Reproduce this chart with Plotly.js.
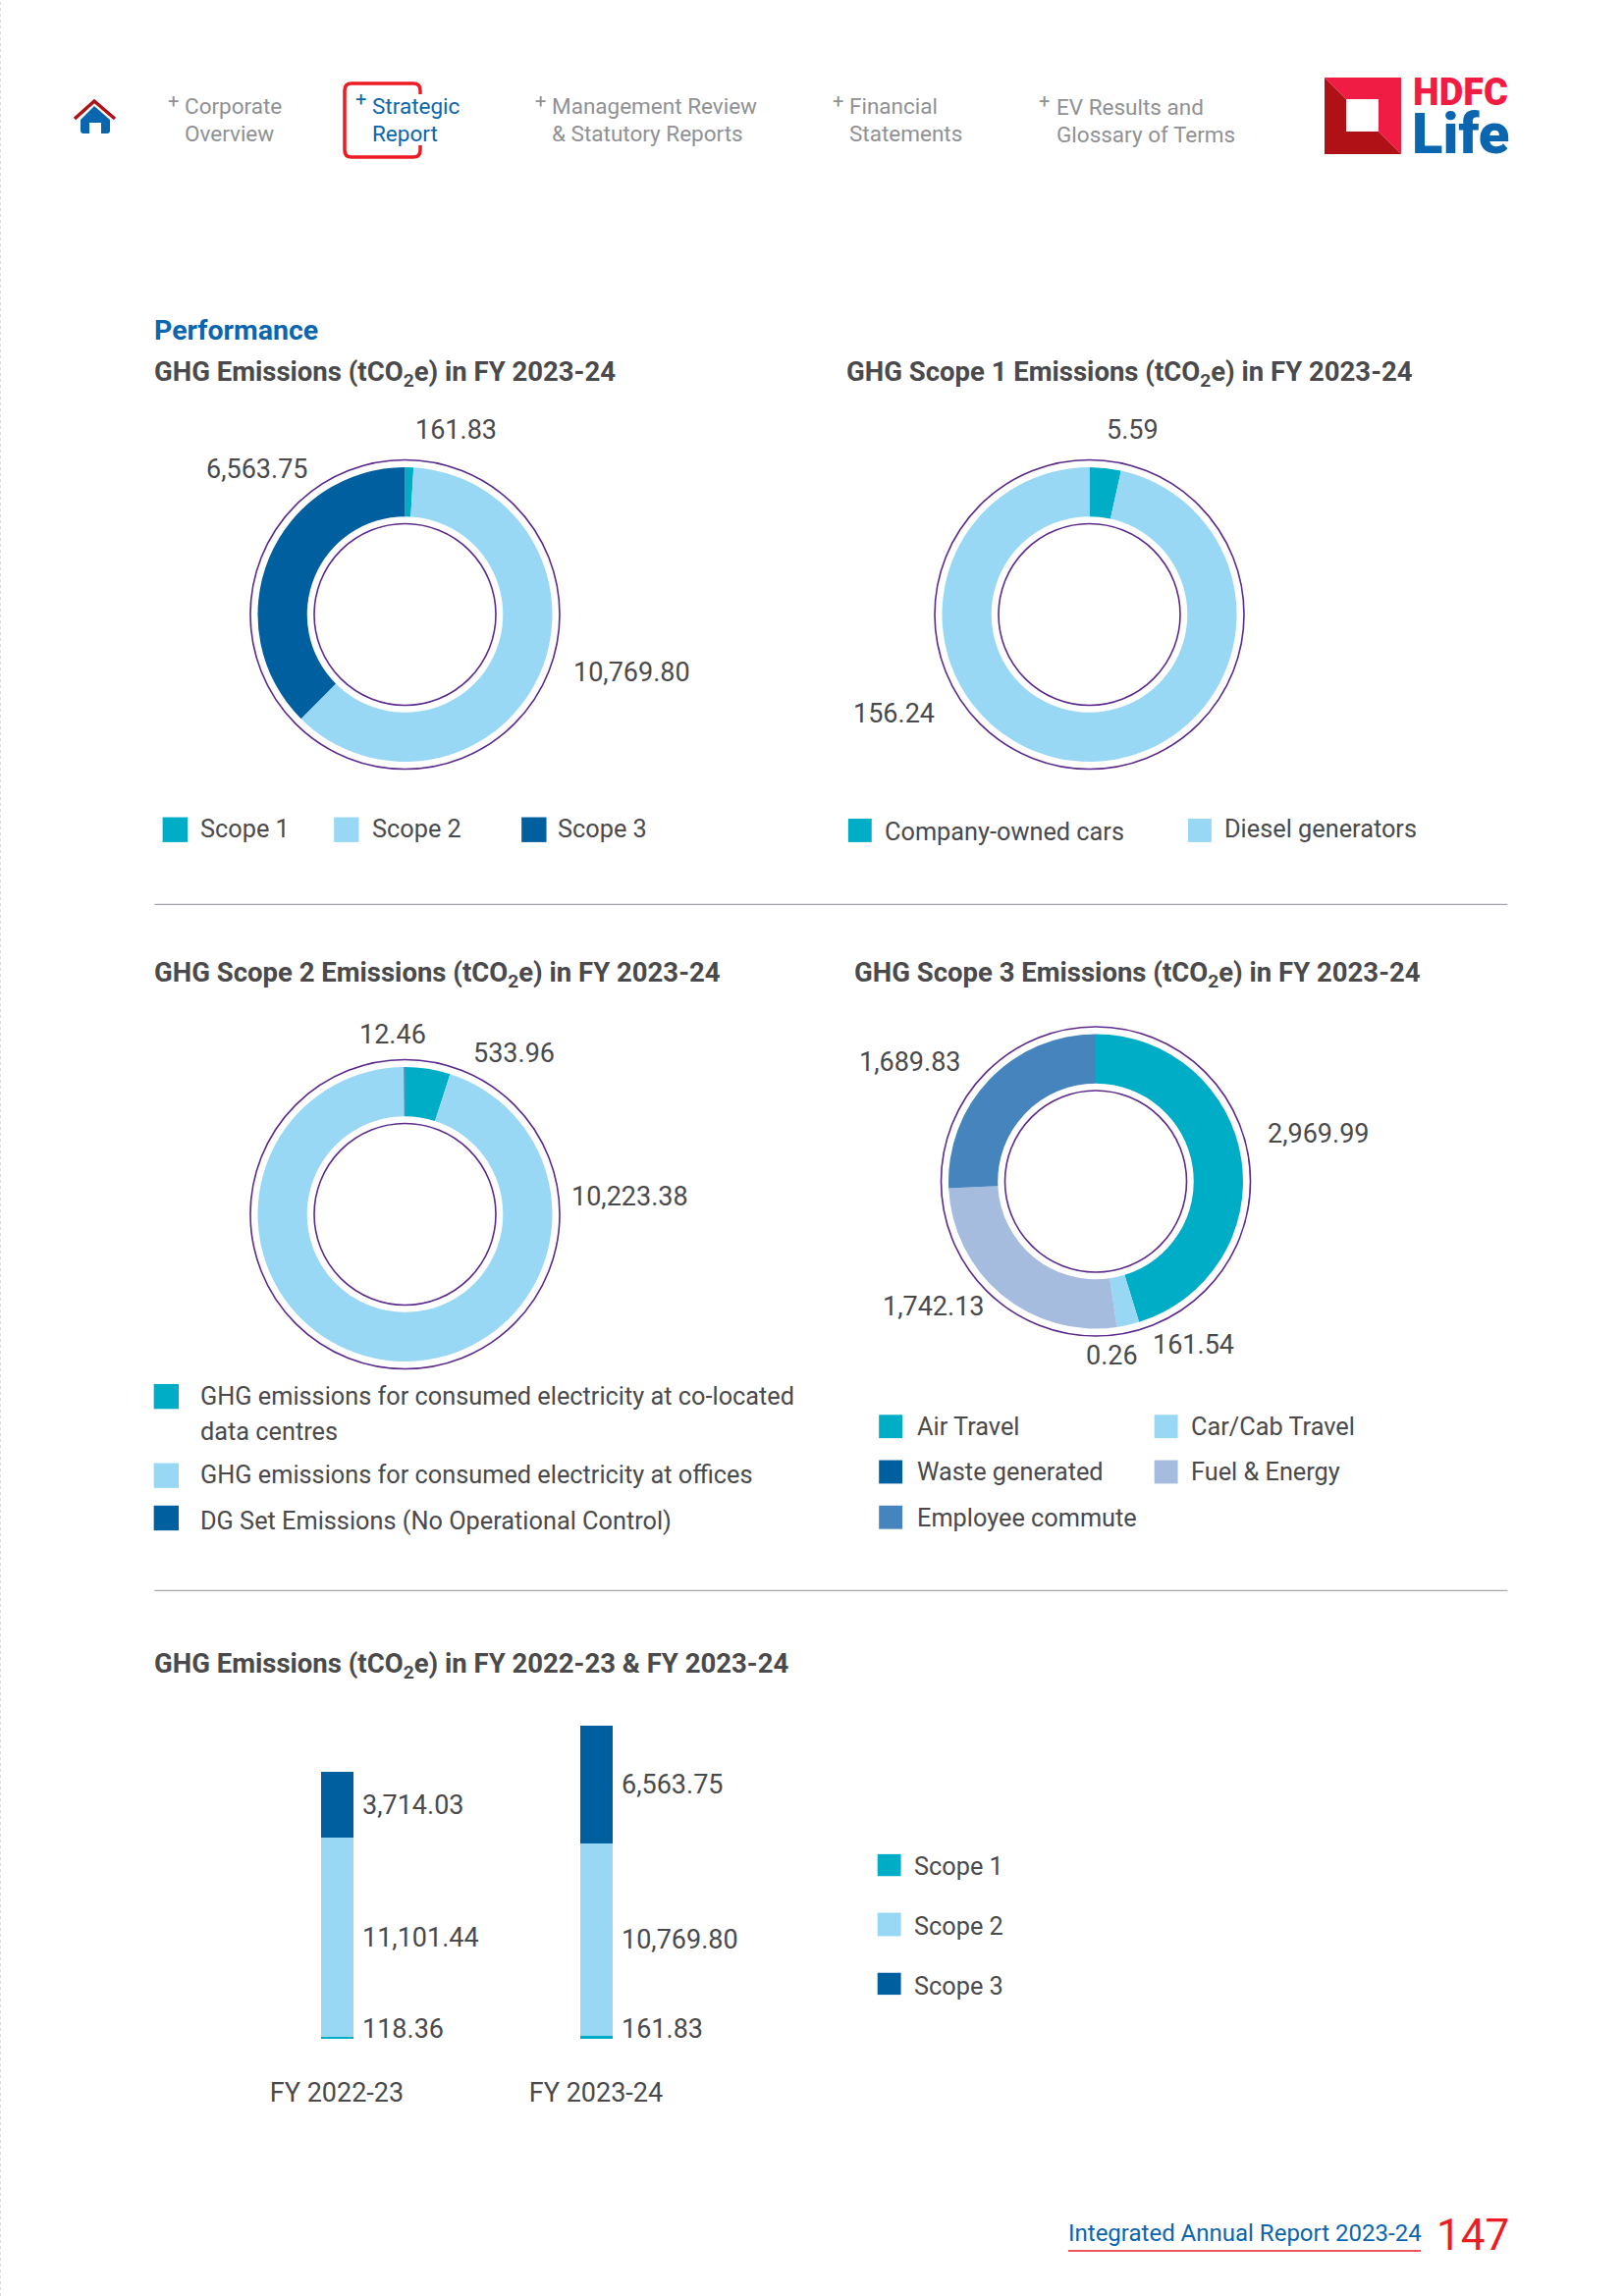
<!DOCTYPE html>
<html>
<head>
<meta charset="utf-8">
<script src="https://cdn.plot.ly/plotly-3.0.1.min.js"></script>
<style>html,body{margin:0;padding:0;background:#fff}</style>
</head>
<body>
<div id="chart" style="width:1654px;height:2339px"></div>
<script>
// ---------- data ----------
const scopeLabels = ['Scope 1', 'Scope 2', 'Scope 3'];
const totalValues = [161.83, 10769.80, 6563.75];
const scope1Labels = ['Company-owned cars', 'Diesel generators'];
const scope1Values = [5.59, 156.24];
const scope2Labels = ['GHG emissions for consumed electricity at co-located data centres', 'GHG emissions for consumed electricity at offices', 'DG Set Emissions (No Operational Control)'];
const scope2Values = [533.96, 10223.38, 12.46];
const scope3Labels = ['Air Travel', 'Car/Cab Travel', 'Waste generated', 'Fuel & Energy', 'Employee commute'];
const scope3Values = [2969.99, 161.54, 0.26, 1742.13, 1689.83];
const years = ['FY 2022-23', 'FY 2023-24'];
const yearScope1 = [118.36, 161.83];
const yearScope2 = [11101.44, 10769.80];
const yearScope3 = [3714.03, 6563.75];

const TEAL = '#00adc6', SKY = '#98d8f5', NAVY = '#005f9f', PERI = '#a6bcde', STEEL = '#4584bd';
const RING = '#5b2a8c', INK = '#4a4a4c', GREY = '#8f9194', BLUE = '#0a66ae', RED = '#ed1c24';
const FONT = 'Roboto';

// ---------- helpers ----------
const W = 1654, H = 2339, K = 1.492;
const fx = x => x / W, fy = y => 1 - y / H;
const annotations = [], shapes = [];
function text(x, y, t, o = {}) {
  annotations.push({
    xref: 'paper', yref: 'paper', x: fx(x), y: fy(y + 0.5), text: t, showarrow: false,
    xanchor: o.anchor || 'left', yanchor: 'middle', align: 'left', borderpad: 0, borderwidth: 0,
    font: {family: o.family || FONT, size: o.size || 27, color: o.color || INK, weight: o.weight || 400}
  });
}
// text placed by coordinates
const dtext = (x, y, t, o) => text(x * K, y * K, t, o);
const fmt = v => v.toLocaleString('en-US', {minimumFractionDigits: 2, maximumFractionDigits: 2});
function rect(x0, y0, x1, y1, color) {
  shapes.push({type: 'rect', xref: 'paper', yref: 'paper', x0: fx(x0 * K), x1: fx(x1 * K), y0: fy(y0 * K), y1: fy(y1 * K), fillcolor: color, line: {width: 0}});
}
function ring(cx, cy, r) {
  shapes.push({type: 'circle', xref: 'paper', yref: 'paper', x0: fx(cx - r), x1: fx(cx + r), y0: fy(cy + r), y1: fy(cy - r), fillcolor: 'rgba(0,0,0,0)', line: {color: RING, width: 1.6}});
}
function path(cmds, fill, stroke, width) {
  const d = cmds.map(c => c[0] + (c.length > 1 ? ' ' + c.slice(1).map((v, i) => i % 2 ? fy(v) : fx(v)).join(' ') : '')).join(' ');
  shapes.push({type: 'path', xref: 'paper', yref: 'paper', path: d, fillcolor: fill || 'rgba(0,0,0,0)', line: {color: stroke || 'rgba(0,0,0,0)', width: stroke ? width : 0}});
}
function donut(cx, cy, labels, values, colors) {
  const R = 150;
  ring(cx, cy, 157.5); ring(cx, cy, 92.5);
  return {
    type: 'pie', labels, values, sort: false, direction: 'clockwise', rotation: 0, hole: 0.665,
    textinfo: 'none', hoverinfo: 'skip', showlegend: false,
    marker: {colors, line: {width: 0}},
    domain: {x: [fx(cx - R), fx(cx + R)], y: [fy(cy + R), fy(cy - R)]}
  };
}

// ---------- traces ----------
const traces = [
  donut(412.5, 626, scopeLabels, totalValues, [TEAL, SKY, NAVY]),
  donut(1109.5, 626, scope1Labels, scope1Values, [TEAL, SKY]),
  donut(412.5, 1237, scope2Labels, scope2Values, [TEAL, SKY, NAVY]),
  donut(1116, 1203.5, scope3Labels, scope3Values, [TEAL, SKY, NAVY, PERI, STEEL])
];
[[yearScope1, TEAL], [yearScope2, SKY], [yearScope3, NAVY]].forEach((s, i) => {
  traces.push({type: 'bar', x: years, y: s[0], name: scopeLabels[i], marker: {color: s[1], line: {width: 0}}, hoverinfo: 'skip', showlegend: false});
});

// ---------- value labels ----------
dtext(311.5, 293, fmt(totalValues[0]), {anchor: 'center'});
dtext(175, 320, fmt(totalValues[2]), {anchor: 'center'});
dtext(431, 459, fmt(totalValues[1]), {anchor: 'center'});
dtext(773, 293, fmt(scope1Values[0]), {anchor: 'center'});
dtext(610, 487, fmt(scope1Values[1]), {anchor: 'center'});
dtext(268, 706, fmt(scope2Values[2]), {anchor: 'center'});
dtext(351, 719, fmt(scope2Values[0]), {anchor: 'center'});
dtext(430, 817, fmt(scope2Values[1]), {anchor: 'center'});
dtext(621, 725, fmt(scope3Values[4]), {anchor: 'center'});
dtext(900, 774, fmt(scope3Values[0]), {anchor: 'center'});
dtext(637, 892, fmt(scope3Values[3]), {anchor: 'center'});
dtext(759, 925, fmt(scope3Values[2]), {anchor: 'center'});
dtext(815, 918, fmt(scope3Values[1]), {anchor: 'center'});

// bar value labels, tied to the data axes
years.forEach((yr, i) => {
  const a = yearScope1[i], b = yearScope2[i], c = yearScope3[i];
  [[a / 2, a, 9], [a + b / 2, b, 0], [a + b + c / 2, c, 0]].forEach(r => {
    annotations.push({xref: 'x', yref: 'y', x: yr, y: r[0], text: fmt(r[1]), showarrow: false, xanchor: 'left', yanchor: 'middle', xshift: 25, yshift: r[2], borderpad: 0,
      font: {family: FONT, size: 27, color: INK}});
  });
});

// ---------- titles ----------
const TB = {size: 27.5, weight: 700};
dtext(105.5, 225.5, 'Performance', {size: 28.5, weight: 700, color: BLUE});
dtext(105.5, 255, 'GHG Emissions (tCO<sub>2</sub>e) in FY 2023-24', TB);
dtext(578, 255, 'GHG Scope 1 Emissions (tCO<sub>2</sub>e) in FY 2023-24', TB);
dtext(105.5, 665, 'GHG Scope 2 Emissions (tCO<sub>2</sub>e) in FY 2023-24', TB);
dtext(583, 665, 'GHG Scope 3 Emissions (tCO<sub>2</sub>e) in FY 2023-24', TB);
dtext(105.5, 1137, 'GHG Emissions (tCO<sub>2</sub>e) in FY 2022-23 & FY 2023-24', TB);

// ---------- legends ----------
const LG = {size: 25.3};
rect(111, 558, 128, 575, TEAL); dtext(137, 566, scopeLabels[0], LG);
rect(228, 558, 245, 575, SKY);  dtext(254, 566, scopeLabels[1], LG);
rect(356, 558, 373, 575, NAVY); dtext(381, 566, scopeLabels[2], LG);
rect(579, 559, 595, 575, TEAL); dtext(604, 568, scope1Labels[0], LG);
rect(811, 559, 827, 575, SKY);  dtext(836, 566, scope1Labels[1], LG);
rect(105, 945, 122, 962, TEAL); dtext(137, 953, 'GHG emissions for consumed electricity at co-located', LG); dtext(137, 977, 'data centres', LG);
rect(105, 999, 122, 1016, SKY); dtext(137, 1007, scope2Labels[1], LG);
rect(105, 1028, 122, 1045, NAVY); dtext(137, 1038, scope2Labels[2], LG);
rect(600, 966, 616, 982, TEAL); dtext(626, 974, scope3Labels[0], LG);
rect(788, 966, 804, 982, SKY);  dtext(813, 974, scope3Labels[1], LG);
rect(600, 997, 616, 1013, NAVY); dtext(626, 1005, scope3Labels[2], LG);
rect(788, 997, 804, 1013, PERI); dtext(813, 1005, scope3Labels[3], LG);
rect(600, 1028, 616, 1044, STEEL); dtext(626, 1036, scope3Labels[4], LG);
rect(599, 1266, 615, 1281, TEAL); dtext(624, 1274, scopeLabels[0], LG);
rect(599, 1306, 615, 1322, SKY);  dtext(624, 1315, scopeLabels[1], LG);
rect(599, 1347, 615, 1362, NAVY); dtext(624, 1356, scopeLabels[2], LG);

// ---------- dividers ----------
[617.5, 1086].forEach(y => shapes.push({type: 'line', xref: 'paper', yref: 'paper', x0: fx(105.5 * K), x1: fx(1029 * K), y0: fy(y * K), y1: fy(y * K), line: {color: '#8e9296', width: 1}}));
shapes.push({type: 'line', xref: 'paper', yref: 'paper', x0: fx(0.5), x1: fx(0.5), y0: 0, y1: 1, line: {color: '#dcdcdc', width: 1, dash: 'dot'}});

// ---------- header navigation ----------
const NAV = {size: 22.5, color: GREY};
const NAVB = {size: 22.5, color: BLUE};
function plus(x, y, c) { dtext(x, y, '+', {size: 20, color: c, anchor: 'center'}); }
plus(118, 68.5, GREY); dtext(126, 72, 'Corporate', NAV); dtext(126, 90.5, 'Overview', NAV);
plus(246.5, 67.5, BLUE); dtext(254, 72, 'Strategic', NAVB); dtext(254, 90.5, 'Report', NAVB);
plus(369, 68.5, GREY); dtext(377, 72, 'Management Review', NAV); dtext(377, 90.5, '& Statutory Reports', NAV);
plus(572, 68.5, GREY); dtext(580, 72, 'Financial', NAV); dtext(580, 90.5, 'Statements', NAV);
plus(713, 68.5, GREY); dtext(721, 72.5, 'EV Results and', NAV); dtext(721, 91.5, 'Glossary of Terms', NAV);
path([['M', 428, 96], ['L', 428, 92], ['Q', 428, 85, 421, 85], ['L', 358, 85], ['Q', 351, 85, 351, 92], ['L', 351, 153], ['Q', 351, 160, 358, 160], ['L', 421, 160], ['Q', 428, 160, 428, 153], ['L', 428, 148]], null, RED, 3.5);

// home icon
path([['M', 96, 108], ['L', 112, 122], ['L', 112, 133], ['Q', 112, 136, 109, 136], ['L', 103, 136], ['L', 103, 125], ['L', 91, 125], ['L', 91, 136], ['L', 85, 136], ['Q', 82, 136, 82, 133], ['L', 82, 122], ['Z']], BLUE);
path([['M', 76, 121], ['L', 96, 103], ['L', 117, 121]], null, '#b01116', 3.5);

// logo
path([['M', 1349, 79], ['L', 1427, 79], ['L', 1427, 157], ['L', 1404, 134], ['L', 1404, 101], ['L', 1371, 101], ['Z']], '#f01c44');
path([['M', 1349, 79], ['L', 1371, 101], ['L', 1371, 134], ['L', 1404, 134], ['L', 1427, 157], ['L', 1349, 157], ['Z']], '#b01116');
text(1487, 93, 'HDFC', {size: 38, weight: 900, color: '#f01c44', anchor: 'center'});
text(1487, 136, 'Life', {size: 58, weight: 900, color: BLUE, anchor: 'center'});

// ---------- footer ----------
text(1088, 2274, 'Integrated Annual Report 2023-24', {size: 24, color: BLUE});
text(1463, 2276, '147', {size: 44, color: RED});
shapes.push({type: 'line', xref: 'paper', yref: 'paper', x0: fx(1088), x1: fx(1447), y0: fy(2293), y1: fy(2293), line: {color: RED, width: 1.5}});

// ---------- layout ----------
const layout = {
  width: W, height: H, autosize: false, margin: {l: 0, r: 0, t: 0, b: 0, pad: 0},
  paper_bgcolor: '#fff', plot_bgcolor: '#fff', showlegend: false,
  font: {family: FONT, color: INK},
  barmode: 'stack', bargap: 0.875,
  xaxis: {domain: [fx(211), fx(739)], type: 'category', range: [-0.5, 1.5], showgrid: false, zeroline: false, showline: false, ticks: '', ticklabelstandoff: 36, tickfont: {family: FONT, size: 27, color: INK}},
  yaxis: {domain: [fy(2077), fy(1758)], range: [0, yearScope1[1] + yearScope2[1] + yearScope3[1]], visible: false, showgrid: false, zeroline: false},
  shapes, annotations
};
Plotly.newPlot('chart', traces, layout, {staticPlot: true, displayModeBar: false});
</script>
</body>
</html>
